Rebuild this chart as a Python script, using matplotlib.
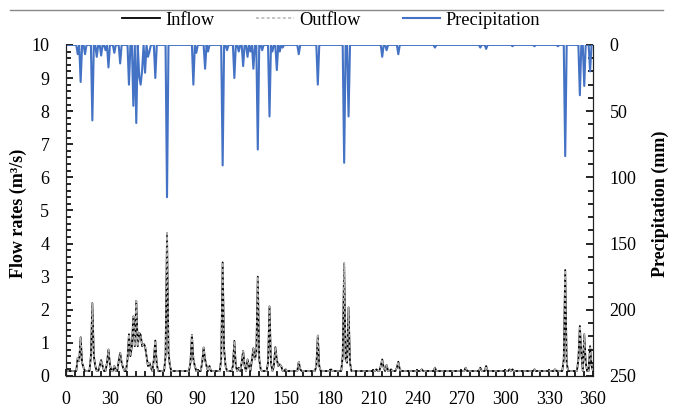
import numpy as np
import matplotlib
matplotlib.use("Agg")
import matplotlib.pyplot as plt
from matplotlib.lines import Line2D
from matplotlib.ticker import MultipleLocator

plt.rcParams["font.family"] = ["Liberation Serif", "DejaVu Serif"]

# day of year -> precipitation (mm); zero on all other days
precip_days = [8, 10, 13, 18, 21, 24, 27, 29, 33, 37, 43, 46, 48, 50, 51, 52, 54,
               56, 57, 61, 69, 87, 89, 95, 97, 107, 110, 115, 118, 121, 124, 126,
               128, 131, 134, 139, 141, 144, 146, 148, 159, 172, 190, 193, 216,
               219, 227, 252, 283, 287, 305, 320, 336, 341, 351, 354, 358]
precip_mm = [7, 28, 7, 57, 9, 8, 4, 17, 6, 14, 30, 46, 59, 24, 30, 19, 21,
             9, 5, 25, 115, 30, 6, 18, 5, 91, 4, 25, 5, 16, 9, 5,
             18, 79, 4, 54, 5, 19, 5, 2, 7, 30, 89, 54, 9,
             4, 7, 2, 2, 3, 1, 1, 1, 84, 38, 31, 20]

# day of year -> flow (m3/s); base flow on all other days
base_flow = 0.15
flow_days = [8, 9, 10, 11, 12, 17, 18, 19, 20, 23, 24, 25, 28, 29, 30, 33, 36, 37,
             38, 39, 42, 43, 44, 45, 46, 47, 48, 49, 50, 51, 52, 53, 54, 55, 56,
             57, 58, 60, 61, 62, 68, 69, 70, 71, 85, 86, 87, 88, 93, 94, 95, 96,
             98, 106, 107, 108, 109, 114, 115, 116, 118, 120, 121, 122, 124, 125,
             127, 128, 129, 130, 131, 132, 133, 138, 139, 140, 142, 143, 144, 145,
             146, 147, 150, 159, 160, 171, 172, 173, 181, 189, 190, 191, 192, 193,
             194, 212, 215, 216, 217, 219, 222, 226, 227, 228, 243, 252, 273, 283,
             287, 303, 305, 320, 334, 340, 341, 342, 350, 351, 352, 354, 355, 358,
             359]
inflow_vals = [0.55, 0.45, 1.17, 0.4, 0.25, 0.6, 2.2, 0.6, 0.3, 0.3, 0.48, 0.3, 0.4,
               0.8, 0.35, 0.3, 0.45, 0.7, 0.4, 0.25, 0.5, 1.26, 0.6, 0.9, 1.8, 0.9,
               2.27, 0.9, 1.3, 1.24, 0.9, 0.97, 0.9, 0.6, 0.3, 0.4, 0.25, 0.5, 1.07,
               0.35, 0.6, 4.31, 0.7, 0.3, 0.4, 1.24, 0.5, 0.3, 0.4, 0.86, 0.5, 0.3,
               0.3, 0.5, 3.43, 0.8, 0.3, 0.3, 1.06, 0.3, 0.25, 0.4, 0.76, 0.3, 0.5,
               0.3, 0.5, 0.84, 0.5, 0.7, 3.0, 0.5, 0.2, 0.4, 2.1, 0.4, 0.3, 0.87,
               0.5, 0.3, 0.35, 0.3, 0.2, 0.43, 0.2, 0.3, 1.22, 0.3, 0.2, 0.6, 3.4,
               0.5, 0.4, 2.07, 0.4, 0.2, 0.3, 0.5, 0.25, 0.33, 0.2, 0.25, 0.43, 0.2,
               0.2, 0.25, 0.25, 0.25, 0.3, 0.2, 0.2, 0.2, 0.2, 0.5, 3.2, 0.4, 0.5,
               1.51, 0.7, 1.26, 0.4, 0.9, 0.3]
outflow_vals = inflow_vals  # outflow follows inflow almost exactly

days = np.arange(0, 361)
precip = np.zeros(len(days))
precip[precip_days] = precip_mm
inflow = np.full(len(days), base_flow)
inflow[flow_days] = inflow_vals
outflow = np.full(len(days), base_flow)
outflow[flow_days] = outflow_vals

fig = plt.figure(figsize=(6.84, 4.12), dpi=100)
ax = fig.add_axes([0.0965, 0.0874, 0.7705, 0.8036])
ax.plot(days, inflow, color="black", lw=1.3, label="Inflow")
ax.plot(days, outflow, color="#b5b5b5", lw=1.1, ls=(0, (2, 1.5)), label="Outflow")
ax.set_xlim(0, 360)
ax.set_ylim(0, 10)
ax.xaxis.set_major_locator(MultipleLocator(30))
ax.xaxis.set_minor_locator(MultipleLocator(6))
ax.yaxis.set_major_locator(MultipleLocator(1))
ax.yaxis.set_minor_locator(MultipleLocator(0.2))
ax.tick_params(which="both", direction="in", labelsize=13, width=1.2)
ax.tick_params(which="major", length=5)
ax.tick_params(which="minor", length=3.5)
ax.tick_params(axis="y", pad=12)
ax.tick_params(axis="x", pad=11)
ax.set_ylabel("Flow rates (m³/s)", fontsize=13, fontweight="bold")
ax.yaxis.set_label_coords(-0.074, 0.49)

ax2 = ax.twinx()
ax2.plot(days, precip, color="#4472c4", lw=1.5, label="Precipitation")
ax2.set_ylim(250, 0)
ax2.yaxis.set_major_locator(MultipleLocator(50))
ax2.yaxis.set_minor_locator(MultipleLocator(10))
ax2.tick_params(which="both", direction="in", labelsize=13, width=1.2, pad=12)
ax2.tick_params(which="major", length=5)
ax2.tick_params(which="minor", length=3.5)
ax2.set_ylabel("Precipitation (mm)", fontsize=13, fontweight="bold")
ax2.yaxis.set_label_coords(1.112, 0.521)

for a in (ax, ax2):
    for s in a.spines.values():
        s.set_color("#222222")
    a.spines["top"].set_visible(False)

handles = [Line2D([], [], color="black", lw=1.3),
           Line2D([], [], color="#b5b5b5", lw=1.1, ls=(0, (2, 1.5))),
           Line2D([], [], color="#4472c4", lw=1.5)]
fig.legend(handles, ["Inflow", "Outflow", "Precipitation"], loc="center",
           bbox_to_anchor=(0.484, 0.951), ncol=3, frameon=False, fontsize=13.2,
           handlelength=2.05, columnspacing=2.3, handletextpad=0.28,
           borderaxespad=0, borderpad=0)

fig.add_artist(Line2D([0.014, 0.97], [0.976, 0.976], color="#888888", lw=1))

fig.savefig("out.png", dpi=100)
